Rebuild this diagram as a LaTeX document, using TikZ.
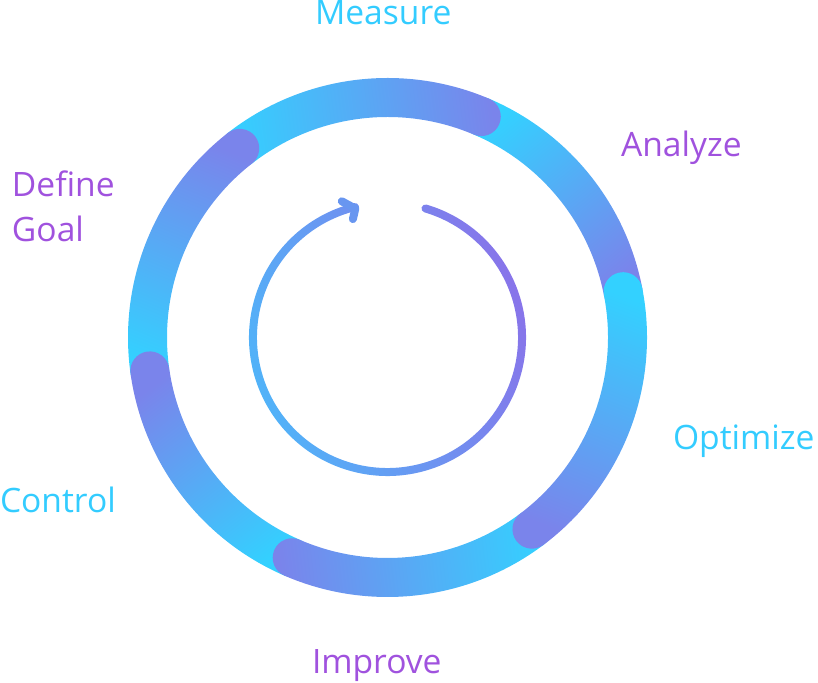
\documentclass[tikz,border=0pt]{standalone}
\usepackage{fontspec}
\setmainfont{Open Sans}
\begin{document}
\begin{tikzpicture}[x=1pt,y=1pt]
        % Define colors
        \definecolor{ringcyan}{RGB}{51,209,255}
        \definecolor{ringpurple}{RGB}{122,132,235}
        \definecolor{arrowblue}{RGB}{78,182,249}
        \definecolor{arrowpurple}{RGB}{138,114,233}
        \definecolor{headcolor}{RGB}{104,150,240}
        \definecolor{labelcyan}{RGB}{51,204,255}
        \definecolor{labelpurple}{RGB}{160,82,222}
        \tikzset{steplabel/.style={anchor=base west, inner sep=0, outer sep=0,
            font=\fontsize{33.6}{45}\selectfont}}

        \useasboundingbox (0,0) rectangle (818,682);

        \begin{scope}[shift={(387.5,344.5)}]
        % Ring radii
        \def\ringout{259.5} \def\ringin{220.5} \def\capr{19.5}
        % Ring segments, each round end over its neighbour
        \foreach \a/\b in {67/11, 128/67, 188/128, -113.4/-172, -53/-113.4, 11/-53} {
            \pgfmathsetmacro\ang{(\a+\b)/2-180}
            \shade[top color=ringpurple, bottom color=ringcyan, shading angle=\ang]
                (\a:\ringout) arc[start angle=\a, end angle=\b, radius=\ringout]
                arc[start angle=\b, end angle=\b-180, radius=\capr]
                arc[start angle=\b, end angle=\a, radius=\ringin]
                arc[start angle=\a+180, end angle=\a, radius=\capr] -- cycle;
        }

        % Inner cycle arrow
        \shade[top color=arrowpurple, bottom color=arrowblue, shading angle=-70]
            (73.6:138.5) arc[start angle=73.6, end angle=-256, radius=138.5]
            arc[start angle=-256, end angle=-436, radius=4]
            arc[start angle=-256, end angle=73.6, radius=130.5]
            arc[start angle=253.6, end angle=73.6, radius=4] -- cycle;
        \coordinate (tip) at (-32.2,128.9);
        \coordinate (armup) at (-45.7,136.2);
        \coordinate (armdown) at (-34.6,118.4);
        \draw[headcolor, line width=8, line cap=round, line join=round]
            (armup) -- (tip) -- (armdown);
        \end{scope}

        % Labels
        \node[steplabel, labelcyan] (measure) at (315,657) {Measure};
        \node[steplabel, labelpurple] (analyze) at (621,525) {Analyze};
        \node[steplabel, labelcyan] (optimize) at (673,232) {Optimize};
        \node[steplabel, labelpurple] (improve) at (312,9) {Improve};
        \node[steplabel, labelcyan] (control) at (0,169) {Control};
        \node[steplabel, labelpurple, align=left] (define) at (12,440) {Define\\Goal};
    \end{tikzpicture}
\end{document}
